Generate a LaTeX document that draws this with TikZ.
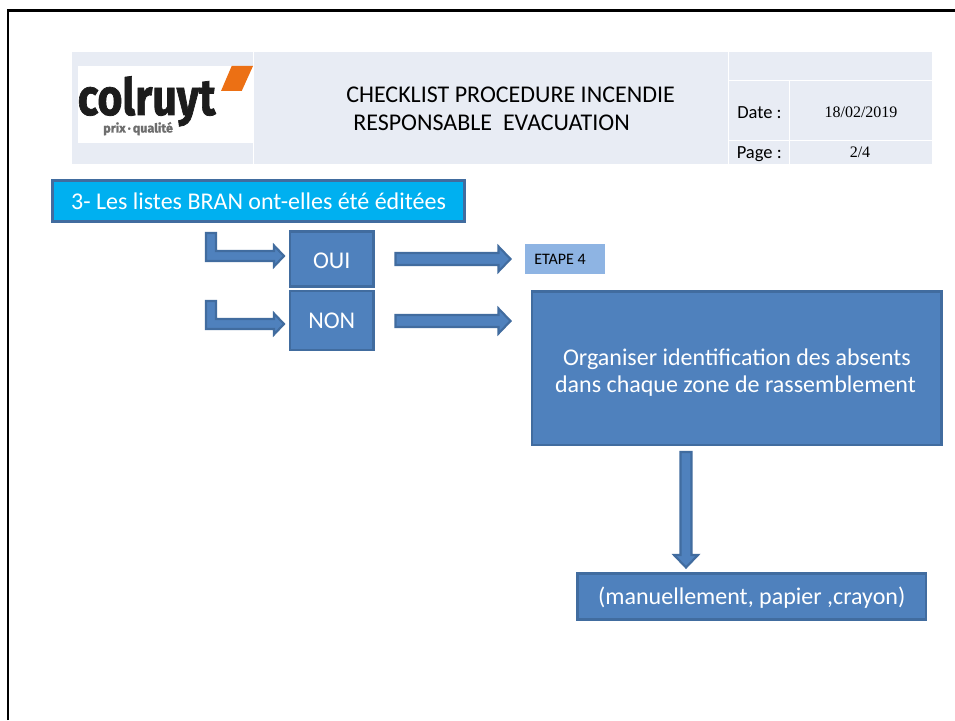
\documentclass[tikz,border=0pt]{standalone}
\usepackage{fontspec}
\setmainfont{Carlito}
\newfontfamily\serifcell{Liberation Serif}
\newfontfamily\logofont[BoldFeatures={FakeBold=1.5}]{Fira Sans}
\usetikzlibrary{calc}
\definecolor{headbg}{HTML}{E8ECF4}
\definecolor{flowfill}{HTML}{4F81BD}
\definecolor{flowline}{HTML}{416C9F}
\definecolor{titlefill}{HTML}{00B0F0}
\definecolor{stepfill}{HTML}{8EB4E3}
\definecolor{logoorange}{HTML}{EC7014}
\definecolor{logogrey}{HTML}{6E6E6E}
\definecolor{logoblack}{HTML}{1C1C1C}
\newcommand{\fpx}[1]{\fontsize{\the\dimexpr#1pt*3/4\relax}{\the\dimexpr#1pt*9/10\relax}\selectfont}
\newcommand{\hblock}[2]{%
  \draw[blockarrow] ($(#1)+(0,-6)$) -- ($(#2)+(-12,-6)$) -- ($(#2)+(-12,-12.5)$) -- (#2) -- ($(#2)+(-12,12.5)$) -- ($(#2)+(-12,6)$) -- ($(#1)+(0,6)$) -- cycle;}
\newcommand{\bentblock}[2]{%
  \draw[blockarrow] ($(#1)+(-5,0)$) -- ($(#1)+(5,0)$) |- ($(#2)+(-10,-5)$) -- ($(#2)+(-10,-10.5)$) -- (#2) -- ($(#2)+(-10,10.5)$) -- ($(#2)+(-10,5)$) -| cycle;}
\tikzset{
  x=0.75pt,y=-0.75pt,
  blockarrow/.style={fill=flowfill,draw=flowline,line width=1.6pt,line join=miter},
  flowbox/.style={fill=flowfill,draw=flowline,line width=1.7pt,text=white,inner sep=0pt,align=center,font=\fpx{24}},
  boxlabel/.style={inner sep=0pt,text=white,font=\fpx{24}},
  headtext/.style={inner sep=0pt,text=black,font=\fpx{24}},
  celltext/.style={inner sep=0pt,text=black,font=\fpx{18.5}},
  datetext/.style={inner sep=0pt,text=black,font=\serifcell\fpx{16}},
  cellrule/.style={draw=white,line width=0.75pt},
}
\begin{document}
\begin{tikzpicture}
\useasboundingbox (0,0) rectangle (955,720);
\fill[white] (0,0) rectangle (955,720);
\draw[black,line width=1.6pt] (8,720) -- (8,10.5) -- (955,10.5);
% header table
\fill[headbg] (72,52) rectangle (932,164);
\draw[cellrule] (253.5,52) -- (253.5,164);
\draw[cellrule] (728.5,52) -- (728.5,164);
\draw[cellrule] (728.5,80.5) -- (932,80.5);
\draw[cellrule] (728.5,141) -- (932,141);
\draw[cellrule] (789,80.5) -- (789,164);
% logo
\fill[white] (78,66) rectangle (253,143);
\fill[logoorange] (231.7,66) -- (253,66) -- (241.7,91) -- (221,91) -- cycle;
\node[inner sep=0pt,anchor=base west,text=logoblack,font=\logofont\bfseries\fpx{51}] (logo) at (77.5,115) {\scalebox{.84}[1]{colruyt}};
\node[inner sep=0pt,anchor=base west,text=logogrey,font=\logofont\bfseries\fpx{12.5}] (logosub) at (103,132.5) {prix\,·\,qualité};
% header text
\node[headtext,anchor=west] (h1) at (346,95) {CHECKLIST PROCEDURE INCENDIE};
\node[headtext,anchor=west] (h2) at (353,123) {RESPONSABLE\ \ EVACUATION};
\node[celltext,anchor=west] (datel) at (737,113) {Date :};
\node[datetext] (datev) at (861,112) {18/02/2019};
\node[celltext,anchor=west] (pagel) at (736.5,154.5) {Page :};
\node[datetext] (pagev) at (860,152.5) {2/4};
% flow boxes
\node[flowbox,fill=titlefill,minimum width=412*0.75pt,minimum height=41*0.75pt] (title) at (258.5,201) {3- Les listes BRAN ont-elles été éditées};
\node[flowbox,minimum width=83.5*0.75pt,minimum height=55*0.75pt] (oui) at (331.75,259) {};
\node[boxlabel] (ouit) at (331.75,260.5) {OUI};
\node[flowbox,minimum width=83.5*0.75pt,minimum height=59*0.75pt] (non) at (331.75,320.5) {};
\node[boxlabel] (nont) at (331.75,320.5) {NON};
\node[fill=stepfill,minimum width=80*0.75pt,minimum height=30*0.75pt,inner sep=0pt] (etape) at (565,259) {};
\node[inner sep=0pt,font=\fpx{16},text=black,anchor=west] (etapet) at (534,259.5) {ETAPE 4};
\node[flowbox,minimum width=409.5*0.75pt,minimum height=153.5*0.75pt] (org) at (736.75,368.25) {};
\node[boxlabel] (orgt1) at (737,359) {Organiser identification des absents};
\node[boxlabel] (orgt2) at (735.5,386) {dans chaque zone de rassemblement};
\node[flowbox,minimum width=348.5*0.75pt,minimum height=46*0.75pt] (manu) at (751.75,596.5) {};
\node[boxlabel] (manut) at (751.75,598) {(manuellement, papier ,crayon)};
% connectors
\coordinate (b1s) at (211,233);
\coordinate (b1e) at (284,256);
\coordinate (b2s) at (211,301);
\coordinate (b2e) at (284,324);
\bentblock{b1s}{b1e}
\bentblock{b2s}{b2e}
\coordinate (a1s) at (395.5,259);
\coordinate (a1e) at (510.5,259);
\coordinate (a2s) at (395.5,321);
\coordinate (a2e) at (510.5,321);
\hblock{a1s}{a1e}
\hblock{a2s}{a2e}
\coordinate (ds) at (686,452);
\coordinate (de) at (686,567.5);
\draw[blockarrow] ($(ds)+(-5.5,0)$) -- ($(ds)+(5.5,0)$) -- ($(de)+(5.5,-12.5)$) -- ($(de)+(12,-12.5)$) -- (de) -- ($(de)+(-12,-12.5)$) -- ($(de)+(-5.5,-12.5)$) -- cycle;
\end{tikzpicture}
\end{document}
